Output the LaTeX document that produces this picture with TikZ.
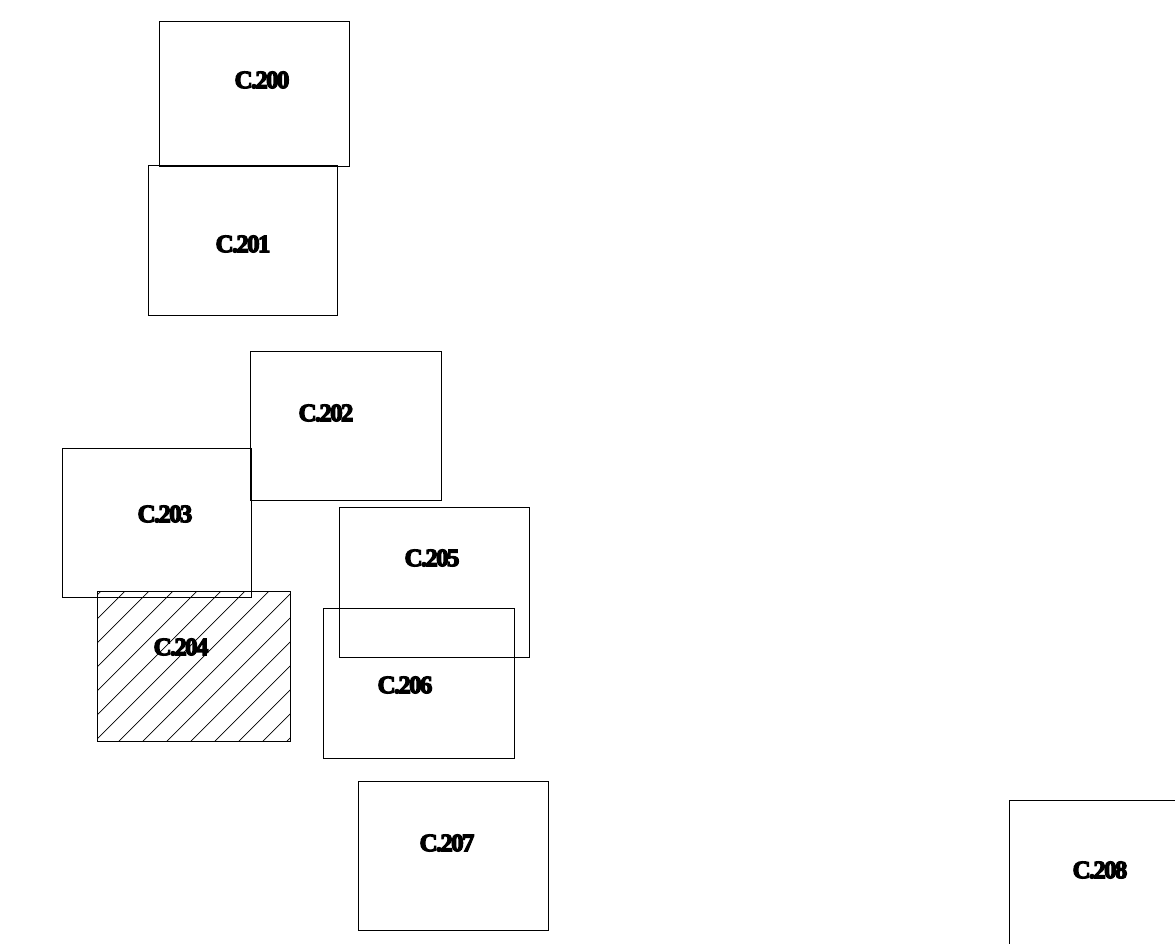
\documentclass[tikz,border=0pt]{standalone}
\usepackage{fontspec}
\setmainfont{Liberation Serif}
\newfontfamily\lblfont{Liberation Serif}[BoldFeatures={FakeBold=5,LetterSpace=-7}]
\begin{document}
\begin{tikzpicture}[x=1pt,y=-1pt,
  room/.style={draw=black, line width=0.8pt, inner sep=0pt},
  lbl/.style={font=\lblfont\bfseries\fontsize{25}{27}\selectfont, inner sep=0pt, anchor=center},
  hatch/.style={line width=0.7pt}]
\useasboundingbox (0,0) rectangle (1175,944);
% rooms: corners (x1,y1) (x2,y2), y downward
\node[room, minimum width=190pt, minimum height=145pt] (r200) at (254,93.5) {};
\node[room, minimum width=189pt, minimum height=150pt] (r201) at (242.5,240) {};
\node[room, minimum width=191pt, minimum height=149pt] (r202) at (345.5,425.5) {};
\node[room, minimum width=189pt, minimum height=149pt] (r203) at (156.5,522.5) {};
% C.204 hatched
\begin{scope}
  \clip (97,591) rectangle (290,741);
  \foreach \c in {692,716,...,1040} {
    \draw[hatch] (\c-760,760) -- (\c-570,570);
  }
\end{scope}
\node[room, minimum width=193pt, minimum height=150pt] (r204) at (193.5,666) {};
\node[room, minimum width=190pt, minimum height=150pt] (r205) at (434,582) {};
\node[room, minimum width=191pt, minimum height=150pt] (r206) at (418.5,683) {};
\node[room, minimum width=190pt, minimum height=149pt] (r207) at (453,855.5) {};
\node[room, minimum width=190pt, minimum height=150pt] (r208) at (1104,875) {};
% labels
\node[lbl] (t200) at (262,80) {C.200};
\node[lbl] (t201) at (243,244) {C.201};
\node[lbl] (t202) at (326,413) {C.202};
\node[lbl] (t203) at (165,514) {C.203};
\node[lbl] (t204) at (181,647) {C.204};
\node[lbl] (t205) at (432,558) {C.205};
\node[lbl] (t206) at (405,685) {C.206};
\node[lbl] (t207) at (447,843) {C.207};
\node[lbl] (t208) at (1100,870) {C.208};
\end{tikzpicture}
\end{document}
